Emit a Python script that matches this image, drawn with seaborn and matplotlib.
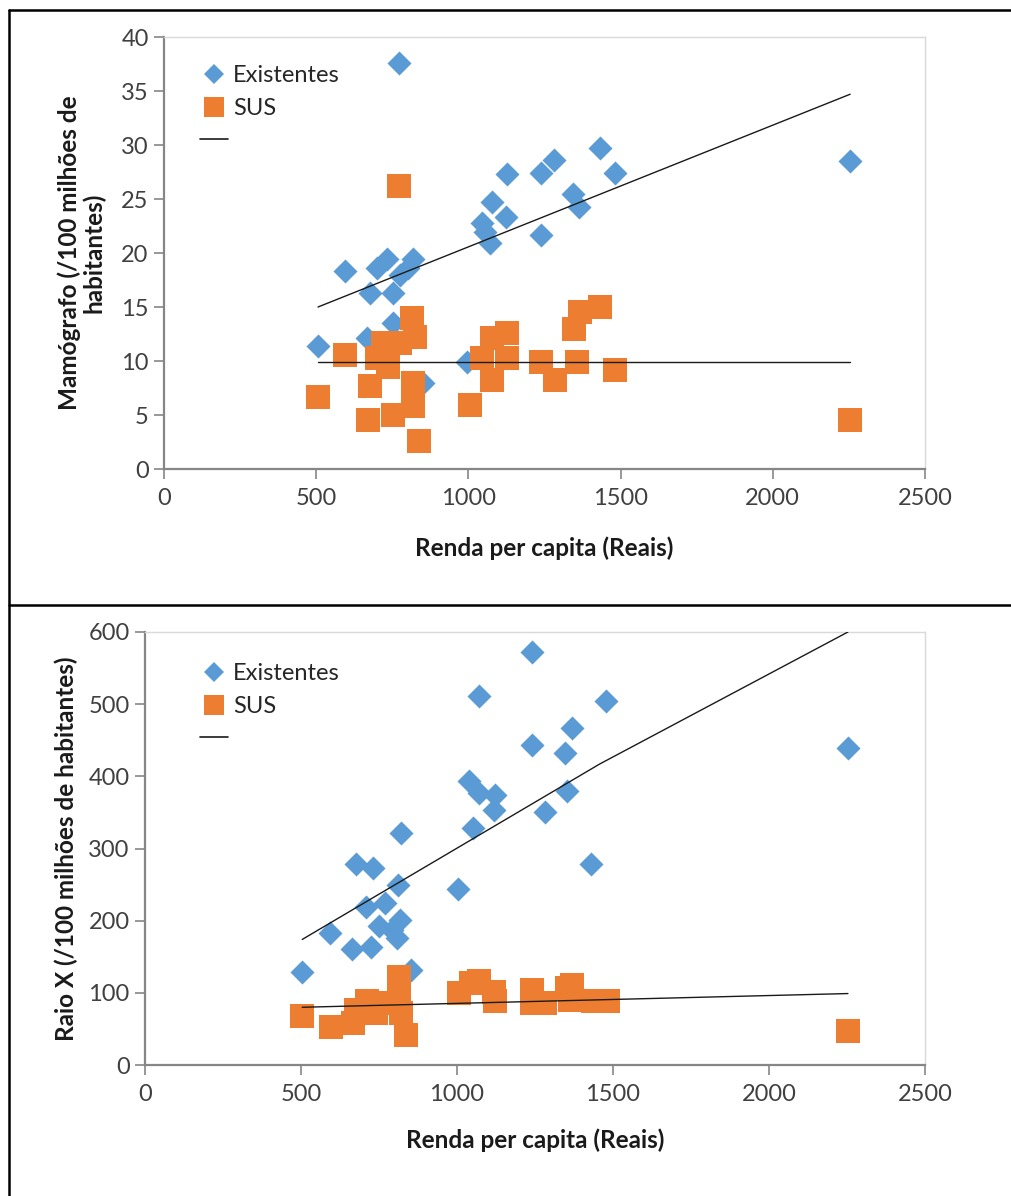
import numpy as np
import pandas as pd
import seaborn as sns
import matplotlib.pyplot as plt
from matplotlib.lines import Line2D

# Mamógrafo panel (top)
mam_exist_renda = [506, 595, 699, 733, 677, 752, 775, 818, 802, 752, 667, 851, 773,
                   995, 1044, 1077, 1054, 1071, 1123, 1127, 1238, 1281, 1238, 1344,
                   1363, 1432, 1481, 2254]
mam_exist_val = [11.4, 18.3, 18.6, 19.4, 16.3, 16.3, 18.0, 19.4, 18.6, 13.5, 12.1, 8.0, 37.6,
                 9.9, 22.8, 24.7, 21.9, 20.9, 23.3, 27.3, 27.4, 28.6, 21.7, 25.5,
                 24.3, 29.7, 27.4, 28.5]
mam_sus_renda = [506, 595, 678, 670, 699, 720, 737, 752, 775, 814, 824, 818, 818, 838, 773,
                 1005, 1044, 1077, 1077, 1127, 1127, 1238, 1284, 1347, 1366, 1432, 1356,
                 1481, 2254]
mam_sus_val = [6.7, 10.6, 7.7, 4.5, 10.3, 11.7, 9.4, 5.0, 11.7, 14.0, 12.2, 8.0, 5.8, 2.6, 26.2,
               5.9, 10.3, 8.2, 12.1, 12.6, 10.3, 9.9, 8.2, 13.0, 14.5, 15.0, 9.9,
               9.2, 4.5]
mam_trend_exist_x = [506, 2254]
mam_trend_exist_y = [15.0, 34.7]
mam_trend_sus_x = [506, 2254]
mam_trend_sus_y = [9.9, 9.9]

# Raio X panel (bottom)
rx_exist_renda = [504, 594, 664, 725, 677, 732, 821, 812, 709, 770, 751, 793, 818, 809, 854,
                  1004, 1050, 1037, 1072, 1123, 1120, 1072, 1239, 1239, 1281, 1345, 1367,
                  1354, 1431, 1479, 2253]
rx_exist_val = [129, 183, 161, 164, 278, 273, 322, 250, 219, 225, 192, 187, 201, 176, 132,
                244, 328, 393, 377, 374, 354, 512, 572, 443, 350, 433, 467,
                379, 278, 505, 439]
rx_sus_renda = [504, 597, 668, 677, 712, 741, 773, 815, 815, 837, 821,
                1008, 1046, 1072, 1123, 1120, 1239, 1281, 1239, 1351, 1367, 1361, 1435,
                1483, 2253]
rx_sus_val = [68, 53, 58, 76, 88, 72, 86, 122, 94, 42, 72,
              100, 114, 116, 88, 101, 104, 86, 86, 107, 111, 90, 88,
              88, 47]
rx_trend_exist_x = [504, 1457, 2253]
rx_trend_exist_y = [174, 417, 600]
rx_trend_sus_x = [504, 2253]
rx_trend_sus_y = [80, 99]

BLUE = '#5B9BD5'
ORANGE = '#ED7D31'
GREY = '#868686'
W, H = 1012, 1196

sns.set_style('white')
plt.rcParams['font.family'] = ['Lato', 'DejaVu Sans']


def draw_panel(ax, ex_x, ex_y, sus_x, sus_y, tr_ex, tr_sus, ymax, ystep, ylabel,
               ylab_x, xlab_y, leg_pos):
    ex = pd.DataFrame({'renda': ex_x, 'val': ex_y})
    sus = pd.DataFrame({'renda': sus_x, 'val': sus_y})
    sns.scatterplot(data=ex, x='renda', y='val', marker='D', s=150, color=BLUE,
                    linewidth=0, ax=ax, zorder=3)
    sns.scatterplot(data=sus, x='renda', y='val', marker='s', s=300, color=ORANGE,
                    linewidth=0, ax=ax, zorder=3)
    for tx, ty in (tr_ex, tr_sus):
        sns.lineplot(x=tx, y=ty, color='#1a1a1a', lw=1.0, estimator=None, sort=False,
                     ax=ax, zorder=4)
    ax.set_xlim(0, 2500)
    ax.set_ylim(0, ymax)
    ax.set_xticks(np.arange(0, 2501, 500))
    ax.set_yticks(np.arange(0, ymax + 1, ystep))
    for side in ('top', 'right'):
        ax.spines[side].set_color('#d9d9d9')
        ax.spines[side].set_linewidth(1.0)
    for side in ('left', 'bottom'):
        ax.spines[side].set_color(GREY)
        ax.spines[side].set_linewidth(1.6)
    ax.tick_params(axis='both', which='major', direction='out', length=7, width=1.2,
                   color=GREY, labelsize=17, labelcolor='#404040', pad=4,
                   bottom=True, left=True)
    ax.tick_params(axis='x', pad=7)
    ax.set_xlabel('Renda per capita (Reais)', fontsize=17.5, fontweight='bold',
                  color='#1a1a1a', va='top')
    ax.xaxis.set_label_coords(0.5, xlab_y)
    ax.set_ylabel(ylabel, fontsize=17.5, fontweight='bold', color='#1a1a1a',
                  linespacing=1.05)
    ax.yaxis.set_label_coords(ylab_x, 0.5)
    handles = [
        Line2D([], [], marker='D', ls='', color=BLUE, ms=10, mew=0),
        Line2D([], [], marker='s', ls='', color=ORANGE, ms=14, mew=0),
        Line2D([], [], color='#1a1a1a', lw=1.2),
    ]
    ax.legend(handles, ['Existentes', 'SUS', ''], loc='upper left',
              bbox_to_anchor=leg_pos, frameon=False, fontsize=17,
              handlelength=1.2, handletextpad=0.2, labelspacing=0.5,
              borderpad=0, borderaxespad=0, labelcolor='#262626')


fig = plt.figure(figsize=(W / 100, H / 100), dpi=100)
ax1 = fig.add_axes([164 / W, 1 - 469 / H, 761 / W, 432 / H])
ax2 = fig.add_axes([145 / W, 1 - 1065 / H, 780 / W, 433 / H])

draw_panel(ax1, mam_exist_renda, mam_exist_val, mam_sus_renda, mam_sus_val,
           (mam_trend_exist_x, mam_trend_exist_y), (mam_trend_sus_x, mam_trend_sus_y),
           40, 5, 'Mamógrafo (/100 milhões de\nhabitantes)',
           (106 - 164) / 761, (469 - 536) / 432, ((200 - 164) / 761, (469 - 65) / 432))
draw_panel(ax2, rx_exist_renda, rx_exist_val, rx_sus_renda, rx_sus_val,
           (rx_trend_exist_x, rx_trend_exist_y), (rx_trend_sus_x, rx_trend_sus_y),
           600, 100, 'Raio X (/100 milhões de habitantes)',
           (78 - 145) / 780, (1065 - 1128) / 433, ((200 - 145) / 780, (1065 - 663) / 433))

# table borders around the two panels
for (x0, y0, x1, y1) in [(9, 10, W, 10), (9, 10, 9, H), (9, 605, W, 605)]:
    fig.add_artist(Line2D([x0 / W, x1 / W], [1 - y0 / H, 1 - y1 / H], color='black',
                          lw=1.8, transform=fig.transFigure))

fig.savefig('out.png', dpi=100)
